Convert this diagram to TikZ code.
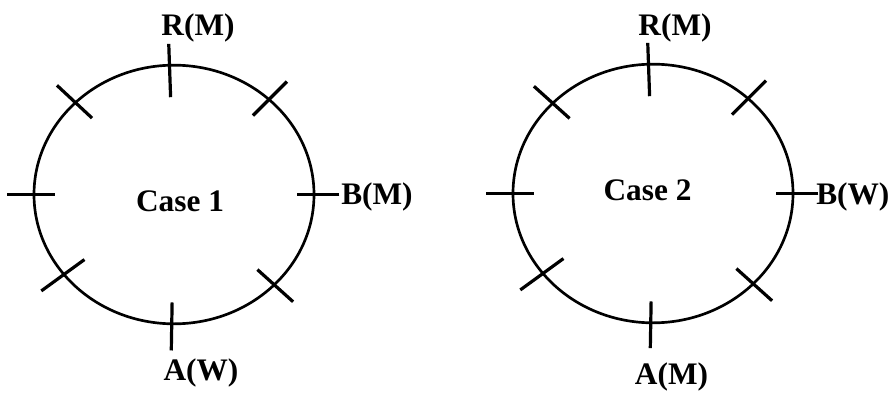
\documentclass[tikz,border=0pt]{standalone}
\usepackage{fontspec}
\setmainfont{Liberation Serif}
\usepackage{tikz}
\usetikzlibrary{positioning, calc, shapes.geometric}

\begin{document}
\begin{tikzpicture}[
  x=0.75pt, y=0.75pt,
  ring/.style={ellipse, draw=black, line width=2pt,
               minimum width=210pt, minimum height=194pt, inner sep=0pt},
  tick/.style={draw=black, line width=2.4pt},
  lbl/.style={font=\fontsize{23.5}{28}\selectfont\bfseries, inner sep=0pt}
]
\useasboundingbox (0,0) rectangle (895,394);

% Case 1
\node[ring] (ring1) at (174, 199.5) {};
\node[lbl] (case1) at (180, 193) {Case 1};

\draw[tick] ($(ring1.92)!-15pt!(ring1.center)$)  -- ($(ring1.92)!25pt!(ring1.center)$);
\draw[tick] ($(ring1.45)!-18pt!(ring1.center)$)  -- ($(ring1.45)!18pt!(ring1.center)$);
\draw[tick] ($(ring1.0)!-18pt!(ring1.center)$)   -- ($(ring1.0)!14pt!(ring1.center)$);
\draw[tick] ($(ring1.318)!-18pt!(ring1.center)$) -- ($(ring1.318)!18pt!(ring1.center)$);
\draw[tick] ($(ring1.269)!-19pt!(ring1.center)$) -- ($(ring1.269)!17pt!(ring1.center)$);
\draw[tick] ($(ring1.216)!-20pt!(ring1.center)$) -- ($(ring1.216)!20pt!(ring1.center)$);
\draw[tick] ($(ring1.180)!-19pt!(ring1.center)$) -- ($(ring1.180)!17pt!(ring1.center)$);
\draw[tick] ($(ring1.137)!-18pt!(ring1.center)$) -- ($(ring1.137)!18pt!(ring1.center)$);

\node[lbl] (r1) at (198, 366.5) {R(M)};
\node[lbl, anchor=west] (b1) at (341, 197.5) {B(M)};
\node[lbl] (a1) at (201, 21.5) {A(W)};

% Case 2
\node[ring] (ring2) at (653, 200.5) {};
\node[lbl] (case2) at (647.5, 204) {Case 2};

\draw[tick] ($(ring2.92)!-15pt!(ring2.center)$)  -- ($(ring2.92)!25pt!(ring2.center)$);
\draw[tick] ($(ring2.45)!-18pt!(ring2.center)$)  -- ($(ring2.45)!18pt!(ring2.center)$);
\draw[tick] ($(ring2.0)!-18pt!(ring2.center)$)   -- ($(ring2.0)!14pt!(ring2.center)$);
\draw[tick] ($(ring2.318)!-18pt!(ring2.center)$) -- ($(ring2.318)!18pt!(ring2.center)$);
\draw[tick] ($(ring2.269)!-18pt!(ring2.center)$) -- ($(ring2.269)!17pt!(ring2.center)$);
\draw[tick] ($(ring2.216)!-20pt!(ring2.center)$) -- ($(ring2.216)!20pt!(ring2.center)$);
\draw[tick] ($(ring2.180)!-19pt!(ring2.center)$) -- ($(ring2.180)!17pt!(ring2.center)$);
\draw[tick] ($(ring2.138)!-18pt!(ring2.center)$) -- ($(ring2.138)!18pt!(ring2.center)$);

\node[lbl] (r2) at (675, 366.5) {R(M)};
\node[lbl, anchor=west] (b2) at (816, 197.5) {B(W)};
\node[lbl] (a2) at (671.5, 17.5) {A(M)};

\end{tikzpicture}
\end{document}
